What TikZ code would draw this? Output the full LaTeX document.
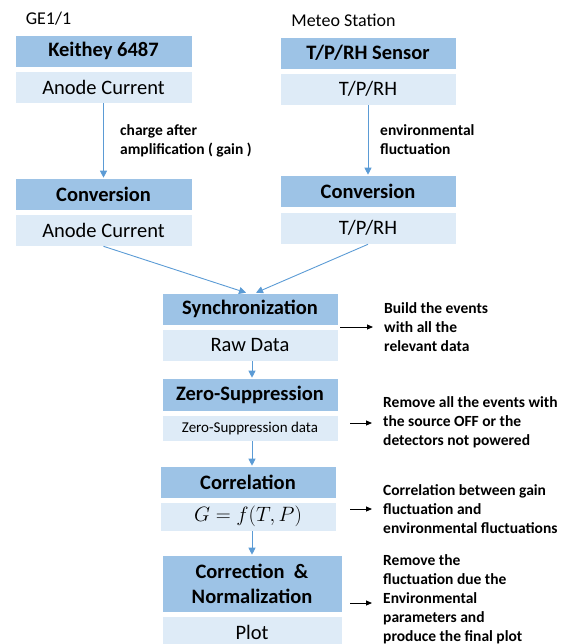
\documentclass[tikz,border=0pt]{standalone}
\usepackage{fontspec}
\setmainfont{Carlito}
\usetikzlibrary{arrows.meta}
\definecolor{hdrblue}{HTML}{9DC3E6}
\definecolor{bodyblue}{HTML}{DEEBF7}
\definecolor{arrblue}{HTML}{5B9BD5}
\tikzset{
  hdr/.style={fill=hdrblue, draw=white, line width=0.6pt, inner sep=0pt, font=\bfseries\fontsize{20.5}{24}\selectfont, align=center},
  bodybox/.style={fill=bodyblue, draw=white, line width=0.6pt, inner sep=0pt, font=\fontsize{20.5}{24}\selectfont, align=center},
  lab/.style={inner sep=0pt, anchor=west, align=left, font=\bfseries\fontsize{15.5}{19}\selectfont},
  ttl/.style={inner sep=0pt, font=\fontsize{18}{21}\selectfont},
  bl/.style={draw=arrblue, line width=0.9pt, -{Triangle[length=7pt,width=7pt]}},
  bk/.style={draw=black, line width=0.9pt, shorten >=11pt, -{Triangle[length=6pt,width=5pt]}}
}
\begin{document}
\begin{tikzpicture}[x=1pt,y=-1pt]
\useasboundingbox (0,0) rectangle (565,644);
\clip (0,0) rectangle (565,644);
% titles
\node[ttl] (t1) at (48.5,19) {GE1/1};
\node[ttl] (t2) at (343.5,20) {Meteo Station};
% left column
\node[hdr, minimum width=177pt, minimum height=32pt] (keith) at (103.5,51) {Keithey 6487};
\node[bodybox, minimum width=177pt, minimum height=32pt] (anode1) at (103.5,87) {Anode Current};
\node[hdr, minimum width=177pt, minimum height=32pt] (conv1) at (103.5,194) {Conversion};
\node[bodybox, minimum width=177pt, minimum height=32pt] (anode2) at (103.5,230) {Anode Current};
% right column
\node[hdr, minimum width=176pt, minimum height=32pt] (sens) at (368,53) {T/P/RH Sensor};
\node[bodybox, minimum width=176pt, minimum height=32pt] (tprh1) at (368,89) {T/P/RH};
\node[hdr, minimum width=176pt, minimum height=32pt] (conv2) at (368,191) {Conversion};
\node[bodybox, minimum width=176pt, minimum height=32pt] (tprh2) at (368,228) {T/P/RH};
% centre column
\node[hdr, minimum width=176pt, minimum height=32pt] (sync) at (250,309) {Synchronization};
\node[bodybox, minimum width=176pt, minimum height=32pt] (raw) at (250,345) {Raw Data};
\node[hdr, minimum width=176pt, minimum height=33pt] (zs) at (250,394.5) {Zero-Suppression};
\node[bodybox, minimum width=176pt, minimum height=26pt, font=\fontsize{15}{18}\selectfont] (zsd) at (250,428) {Zero-Suppression data};
\node[hdr, minimum width=176pt, minimum height=32pt] (corr) at (248,482) {Correlation};
\node[bodybox, minimum width=176pt, minimum height=29pt, font=\fontsize{21}{24}\selectfont] (gf) at (248,516.5) {$G=f(T,P)$};
\node[hdr, minimum width=180pt, minimum height=57pt, font=\bfseries\fontsize{20.5}{25}\selectfont] (cn) at (252,583.5) {Correction~~\&\\Normalization};
\node[bodybox, minimum width=180pt, minimum height=32pt] (plot) at (252,632) {Plot};
% side labels
\node[lab] (l1) at (120,140.5) {charge after\\amplification ( gain )};
\node[lab] (l2) at (380,140) {environmental\\fluctuation};
\node[lab] (s1) at (384,327) {Build the events\\with all the\\relevant data};
\node[lab] (s2) at (383,422) {Remove all the events with\\the source OFF or the\\detectors not powered};
\node[lab] (s3) at (383,509) {Correlation between gain\\fluctuation and\\environmental fluctuations};
\node[lab] (s4) at (383,599) {Remove the\\fluctuation due the\\Environmental\\parameters and\\produce the final plot};
% blue connectors
\draw[bl] (anode1.south) -- (conv1.north);
\draw[bl] (tprh1.south) -- (conv2.north);
\draw[bl] (anode2.south) -- ([xshift=-4pt]sync.north);
\draw[bl] (tprh2.south) -- ([xshift=6pt]sync.north);
\draw[bl] ([xshift=2pt]raw.south) -- ([xshift=2pt]zs.north);
\draw[bl] ([xshift=2pt]zsd.south) -- ([xshift=4pt]corr.north);
\draw[bl] ([xshift=4pt]gf.south) -- (cn.north);
% black connectors
\coordinate (a1) at (340,327);
\coordinate (a2) at (350,423);
\coordinate (a3) at (350,509);
\coordinate (a4) at (350,603);
\draw[bk] (a1) -- (a1 -| s1.west);
\draw[bk] (a2) -- (a2 -| s2.west);
\draw[bk] (a3) -- (a3 -| s3.west);
\draw[bk] (a4) -- (a4 -| s4.west);
\end{tikzpicture}
\end{document}
